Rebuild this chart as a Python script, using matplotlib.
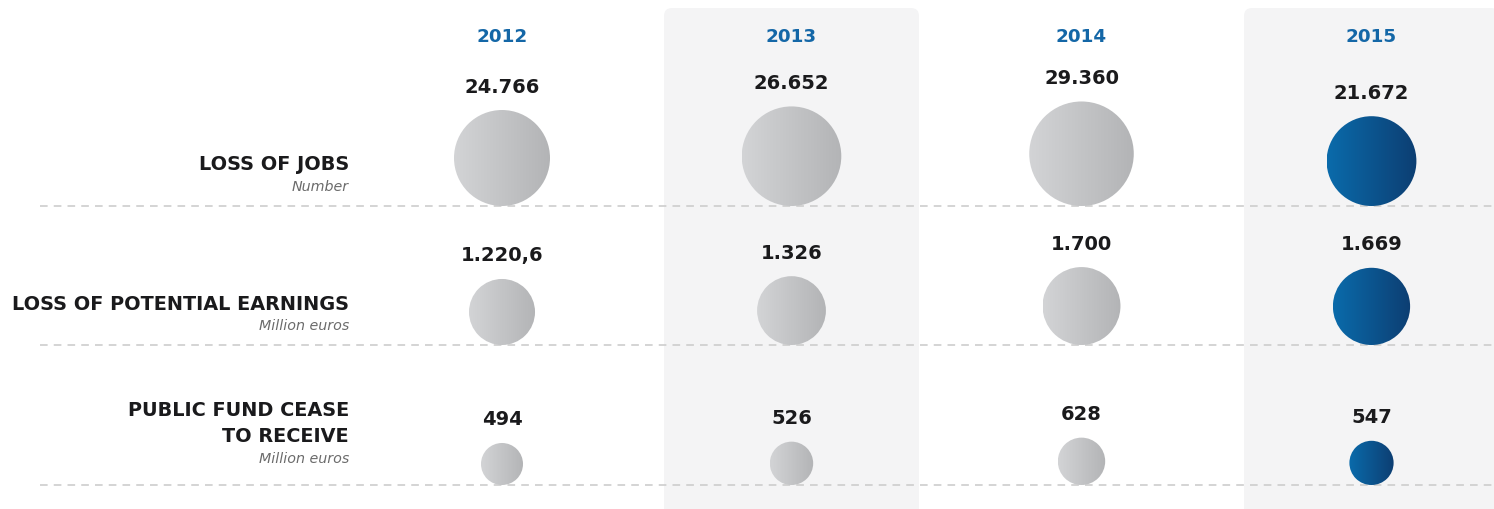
import numpy as np
import matplotlib as mpl
import matplotlib.pyplot as plt
from matplotlib.patches import Circle, FancyBboxPatch

# donnees
YEARS = ["2012", "2013", "2014", "2015"]
ROW_TITLES = ["LOSS OF JOBS", "LOSS OF POTENTIAL EARNINGS", "PUBLIC FUND CEASE\nTO RECEIVE"]
ROW_UNITS = ["Number", "Million euros", "Million euros"]
JOBS = [24766, 26652, 29360, 21672]
EARNINGS = [1220.6, 1326, 1700, 1669]
PUBLIC_FUND = [494, 526, 628, 547]
ROWS = [JOBS, EARNINGS, PUBLIC_FUND]

# mise en page (pixels)
W, H = 1494, 510
COL_X = [502, 791.5, 1081.5, 1371.5]
BASE_Y = [207, 346, 486]
SCALE = [0.61, 1.89, 1.89]          # diametre = k * sqrt(valeur)
SHADED = [1, 3]

BLUE_TXT = "#1467a7"
INK = "#1a1a1c"
GREY_TXT = "#6b6b6b"
PANEL = "#f4f4f5"
DASH = "#c9c9c9"
GREY_GRAD = ("#d3d4d6", "#b3b4b6")
BLUE_GRAD = ("#0a6bab", "#0d3e72")

mpl.rcParams["font.family"] = ["DejaVu Sans"]


def fmt(v):
    """format europeen : 24.766 / 1.220,6"""
    if float(v).is_integer():
        s = f"{int(v):,}".replace(",", ".")
    else:
        ent, dec = f"{v:.1f}".split(".")
        s = f"{int(ent):,}".replace(",", ".") + "," + dec
    return s


def grad_cmap(c0, c1):
    return mpl.colors.LinearSegmentedColormap.from_list("g", [c0, c1])


fig = plt.figure(figsize=(W / 100, H / 100), dpi=100)
ax = fig.add_axes([0, 0, 1, 1])
ax.set_xlim(0, W)
ax.set_ylim(H, 0)
ax.axis("off")

# panneaux grises
for i in SHADED:
    cx = COL_X[i]
    ax.add_patch(FancyBboxPatch((cx - 127.5, 9), 255, H + 20,
                                boxstyle="round,pad=0,rounding_size=8",
                                fc=PANEL, ec="none", zorder=0))

# lignes pointillees
for y in BASE_Y:
    ax.plot([40, W], [y, y], color=DASH, lw=1.1, ls=(0, (5, 4)), zorder=1)

# annees
for x, yr in zip(COL_X, YEARS):
    ax.text(x, 37, yr, ha="center", va="center", fontsize=13.2,
            fontweight="bold", color=BLUE_TXT)

grad = np.linspace(0, 1, 256).reshape(1, -1)
for r, vals in enumerate(ROWS):
    yb = BASE_Y[r]
    for i, v in enumerate(vals):
        d = SCALE[r] * np.sqrt(v)
        cx, cy = COL_X[i], yb - d / 2
        cols = BLUE_GRAD if i == 3 else GREY_GRAD
        circ = Circle((cx, cy), d / 2, transform=ax.transData, fc="none", ec="none")
        ax.add_patch(circ)
        im = ax.imshow(grad, cmap=grad_cmap(*cols), aspect="auto",
                       extent=[cx - d / 2, cx + d / 2, yb, yb - d], zorder=2,
                       interpolation="bilinear")
        im.set_clip_path(circ)
        ax.text(cx, yb - d - 24, fmt(v), ha="center", va="center",
                fontsize=14, fontweight="bold", color=INK)

# titres des lignes
ax.text(349, 165, ROW_TITLES[0], ha="right", va="center", fontsize=13.9,
        fontweight="bold", color=INK)
ax.text(349, 187, ROW_UNITS[0], ha="right", va="center", fontsize=10.3,
        style="italic", color=GREY_TXT)
ax.text(349, 305, ROW_TITLES[1], ha="right", va="center", fontsize=13.9,
        fontweight="bold", color=INK)
ax.text(349, 326, ROW_UNITS[1], ha="right", va="center", fontsize=10.3,
        style="italic", color=GREY_TXT)
ax.text(349, 423.5, ROW_TITLES[2], ha="right", va="center", fontsize=13.9,
        fontweight="bold", color=INK, linespacing=1.5)
ax.text(349, 459, ROW_UNITS[2], ha="right", va="center", fontsize=10.3,
        style="italic", color=GREY_TXT)

fig.savefig("out.png", dpi=100)
